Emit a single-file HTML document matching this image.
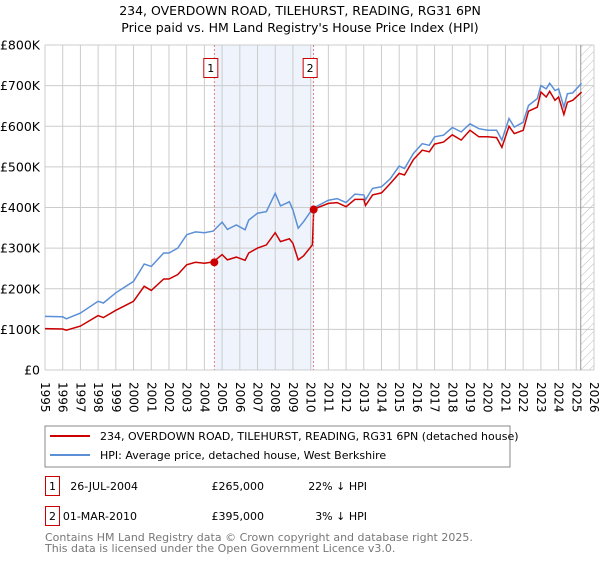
<!DOCTYPE html>
<html><head><meta charset="utf-8"><style>
body{margin:0;background:#fff;font-family:"Liberation Sans","DejaVu Sans",sans-serif;}
svg text{font-family:"DejaVu Sans","Liberation Sans",sans-serif;}
</style></head><body>
<svg id="c" width="600" height="560" viewBox="0 0 600 560" xmlns="http://www.w3.org/2000/svg">
<text x="300" y="15" text-anchor="middle" font-size="12.5">234, OVERDOWN ROAD, TILEHURST, READING, RG31 6PN</text>
<text x="300" y="32" text-anchor="middle" font-size="12.5">Price paid vs. HM Land Registry's House Price Index (HPI)</text>
<defs><pattern id="hatch" width="6" height="6" patternUnits="userSpaceOnUse" patternTransform="rotate(45)"><line x1="0" y1="0" x2="0" y2="6" stroke="#bbb" stroke-width="1"/></pattern></defs>
<g id="plot"></g>
<rect x="45" y="426" width="465" height="41" fill="#fff" stroke="#888"/>
<line x1="50" y1="436" x2="90" y2="436" stroke="#cc0000" stroke-width="2"/>
<text x="100" y="440" font-size="11">234, OVERDOWN ROAD, TILEHURST, READING, RG31 6PN (detached house)</text>
<line x1="50" y1="455" x2="90" y2="455" stroke="#5b8fd6" stroke-width="2"/>
<text x="100" y="459" font-size="11">HPI: Average price, detached house, West Berkshire</text>
<g>
<rect x="45.5" y="476.5" width="14" height="19" fill="#fff" stroke="#cc0000"/>
<text x="52.5" y="490" font-size="11" text-anchor="middle">1</text>
<text x="138" y="490" font-size="11" text-anchor="end">26-JUL-2004</text>
<text x="264" y="490" font-size="11" text-anchor="end">£265,000</text>
<text x="367" y="490" font-size="11" text-anchor="end">22% ↓ HPI</text></g>
<g>
<rect x="45.5" y="506.5" width="14" height="19" fill="#fff" stroke="#cc0000"/>
<text x="52.5" y="520" font-size="11" text-anchor="middle">2</text>
<text x="137" y="520" font-size="11" text-anchor="end">01-MAR-2010</text>
<text x="264" y="520" font-size="11" text-anchor="end">£395,000</text>
<text x="367" y="520" font-size="11" text-anchor="end">3% ↓ HPI</text></g>
<text x="45" y="541" font-size="11" fill="#777">Contains HM Land Registry data © Crown copyright and database right 2025.</text>
<text x="45" y="552" font-size="11" fill="#777">This data is licensed under the Open Government Licence v3.0.</text>
</svg>
<script>
const yTicks=[0,100,200,300,400,500,600,700,800];
const years=[1995,1996,1997,1998,1999,2000,2001,2002,2003,2004,2005,2006,2007,2008,2009,2010,2011,2012,2013,2014,2015,2016,2017,2018,2019,2020,2021,2022,2023,2024,2025,2026];
const hpiDates=[1995,1996,1996.2,1997,1998,1998.3,1999,2000,2000.6,2001,2001.7,2002,2002.5,2003,2003.5,2004,2004.5,2005,2005.3,2005.8,2006.3,2006.5,2007,2007.5,2008,2008.3,2008.8,2009,2009.3,2009.6,2010,2010.3,2011,2011.5,2012,2012.5,2013,2013.1,2013.5,2014,2014.5,2015,2015.3,2015.8,2016.3,2016.7,2017,2017.5,2018,2018.5,2019,2019.5,2020,2020.5,2020.8,2021.2,2021.5,2022,2022.3,2022.8,2023,2023.3,2023.5,2023.8,2024,2024.3,2024.5,2024.8,2025.3];
const hpiValues=[132,131,126,140,169,165,190,218,261,255,288,288,300,333,340,338,342,364,346,357,345,369,386,390,435,404,414,394,349,365,390,402,418,422,412,433,431,419,447,451,471,502,496,533,557,553,574,578,597,586,606,594,590,590,566,619,598,610,651,668,700,692,706,688,692,647,680,682,706];
const priceDates=[1995,1996,1996.2,1997,1998,1998.3,1999,2000,2000.6,2001,2001.7,2002,2002.5,2003,2003.5,2004,2004.5,2005,2005.3,2005.8,2006.3,2006.5,2007,2007.5,2008,2008.3,2008.8,2009,2009.3,2009.6,2010.1,2010.17,2010.3,2011,2011.5,2012,2012.5,2013,2013.1,2013.5,2014,2014.5,2015,2015.3,2015.8,2016.3,2016.7,2017,2017.5,2018,2018.5,2019,2019.5,2020,2020.5,2020.8,2021.2,2021.5,2022,2022.3,2022.8,2023,2023.3,2023.5,2023.8,2024,2024.3,2024.5,2024.8,2025.3];
const priceValues=[102,101,98,108,134,129,147,169,206,196,224,224,235,259,265,263,266,284,271,278,270,288,300,308,338,316,323,312,271,281,308,394,398,410,412,402,420,420,405,431,436,459,484,480,518,541,537,556,561,579,566,590,574,574,572,548,600,582,590,637,647,684,672,686,664,672,629,659,664,684];
const saleDates=[2004.56,2010.17];
const saleValues=[265,395];
const saleLabels=["1","2"];
const X0=45,X1=594,Y0=370,Y1=45;
const xs=t=>X0+(t-1995)*(X1-X0)/31;
const ys=v=>Y0-(v/800)*(Y0-Y1);
const NS="http://www.w3.org/2000/svg";
const g=document.getElementById('plot');
function mk(tag,attrs,parent){const e=document.createElementNS(NS,tag);for(const k in attrs)e.setAttribute(k,attrs[k]);(parent||g).appendChild(e);return e;}
let e=mk('rect',{x:xs(saleDates[0]),y:Y1,width:xs(saleDates[1])-xs(saleDates[0]),height:Y0-Y1,fill:'#eef3fc'});


for(const t of years){const l=mk('line',{x1:xs(t),x2:xs(t),y1:Y1,y2:Y0,stroke:'#ccc'});


const tx=mk('text',{x:0,y:0,'font-size':12,transform:`translate(${xs(t)-4},382) rotate(90)`});tx.textContent=t;

}
for(const v of yTicks){const l=mk('line',{x1:X0,x2:X1,y1:ys(v),y2:ys(v),stroke:'#ccc'});


const tx=mk('text',{x:40,y:ys(v)+4.5,'font-size':12.5,'text-anchor':'end'});tx.textContent=v===0?'£0':'£'+v+'K';

}
e=mk('rect',{x:xs(2025.25),y:Y1,width:X1-xs(2025.25),height:Y0-Y1,fill:'url(#hatch)'});


e=mk('line',{x1:xs(2025.25),x2:xs(2025.25),y1:Y1,y2:Y0,stroke:'#999'});


const pts=(d,v)=>d.map((t,i)=>xs(t).toFixed(1)+','+ys(v[i]).toFixed(1)).join(' ');
e=mk('polyline',{points:pts(hpiDates,hpiValues),fill:'none',stroke:'#5b8fd6','stroke-width':1.5});


e=mk('polyline',{points:pts(priceDates,priceValues),fill:'none',stroke:'#cc0000','stroke-width':1.5});


saleDates.forEach((t,i)=>{
const l=mk('line',{x1:xs(t),x2:xs(t),y1:Y1,y2:Y0,stroke:'#e06060','stroke-dasharray':'2,2','stroke-width':0.8});


const c=mk('circle',{cx:xs(t),cy:ys(saleValues[i]),r:4,fill:'#cc0000'});


const b=mk('rect',{x:xs(t)-10.5,y:58.5,width:14,height:19,fill:'#fff',stroke:'#cc0000'});


const tx=mk('text',{x:xs(t)-3.5,y:72,'font-size':11,'text-anchor':'middle'});tx.textContent=saleLabels[i];


});
</script>
</body></html>
